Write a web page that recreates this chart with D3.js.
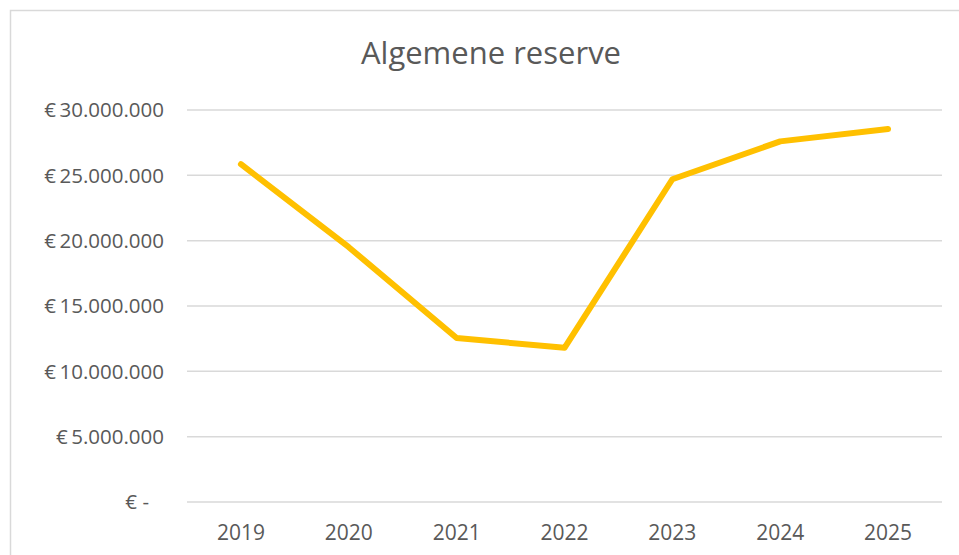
<!DOCTYPE html>
<html>
<head>
<meta charset="utf-8">
<script src="https://cdn.jsdelivr.net/npm/d3@7"></script>
<style>
  body { margin: 0; background: #fff; }
  text { font-family: "Open Sans", sans-serif; fill: #595959; }
</style>
</head>
<body>
<div id="chart"></div>
<script>
// data
var years = ['2019', '2020', '2021', '2022', '2023', '2024', '2025'];
var reserve = [25850000, 19500000, 12550000, 11800000, 24700000, 27600000, 28550000];
var yTicks = [0, 5000000, 10000000, 15000000, 20000000, 25000000, 30000000];

var svgWidth = 959;
var svgHeight = 555;

var svg = d3.select('#chart')
    .append('svg')
    .attr('width', svgWidth)
    .attr('height', svgHeight);

// chart frame (runs off the right and bottom edge)
svg.append('rect')
    .attr('x', 10.5)
    .attr('y', 10.5)
    .attr('width', 1000)
    .attr('height', 600)
    .attr('fill', '#fff')
    .attr('stroke', '#d9d9d9')
    .attr('stroke-width', 1.5);

var plot = { left: 187, right: 942, top: 110, bottom: 502 };

var x = d3.scaleBand()
    .domain(years)
    .range([plot.left, plot.right]);

var y = d3.scaleLinear()
    .domain([0, 30000000])
    .range([plot.bottom, plot.top]);

function euro(v) {
    if (v === 0) return '€ -';
    return '€\u2009' + d3.format(',')(v).replace(/,/g, '.');
}

// gridlines
svg.append('g')
    .selectAll('line')
    .data(yTicks)
    .enter()
    .append('line')
        .attr('x1', plot.left)
        .attr('x2', plot.right)
        .attr('y1', d => y(d))
        .attr('y2', d => y(d))
        .attr('stroke', '#d9d9d9')
        .attr('stroke-width', 1.5);

// y labels
svg.append('g')
    .selectAll('text')
    .data(yTicks)
    .enter()
    .append('text')
        .attr('x', d => d === 0 ? 149 : 164)
        .attr('y', d => y(d))
        .attr('dy', '0.35em')
        .attr('text-anchor', 'end')
        .style('font-size', '20.5px')
        .text(euro);

// x labels
svg.append('g')
    .selectAll('text')
    .data(years)
    .enter()
    .append('text')
        .attr('x', d => x(d) + x.bandwidth() / 2)
        .attr('y', 533)
        .attr('dy', '0.35em')
        .attr('text-anchor', 'middle')
        .style('font-size', '21px')
        .text(d => d);

// line
var line = d3.line()
    .x((d, i) => x(years[i]) + x.bandwidth() / 2)
    .y(d => y(d));

svg.append('path')
    .datum(reserve)
    .attr('d', line)
    .attr('fill', 'none')
    .attr('stroke', '#ffc000')
    .attr('stroke-width', 6)
    .attr('stroke-linecap', 'round')
    .attr('stroke-linejoin', 'round');

// title
svg.append('text')
    .attr('x', 491)
    .attr('y', 53)
    .attr('dy', '0.35em')
    .attr('text-anchor', 'middle')
    .style('font-size', '31px')
    .text('Algemene reserve');
</script>
</body>
</html>
